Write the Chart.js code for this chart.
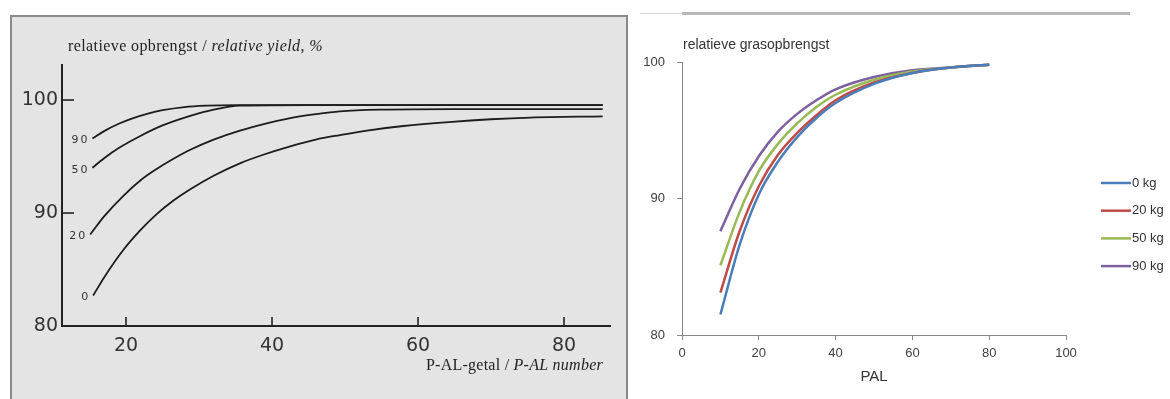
<!DOCTYPE html>
<html><head><meta charset="utf-8">
<script src="https://cdn.jsdelivr.net/npm/chart.js@4.4.1/dist/chart.umd.min.js"></script>
<style>
html,body{margin:0;padding:0;background:#fff;width:1170px;height:399px;overflow:hidden;}
#leftBox{position:absolute;left:10px;top:15px;width:614px;height:384px;background:#e4e4e4;border:2px solid #8a8a8a;border-bottom:none;}
#leftWrap{position:absolute;left:12px;top:17px;width:614px;height:382px;}
#rightWrap{position:absolute;left:640px;top:0;width:530px;height:399px;}
#topLine{position:absolute;left:682px;top:12px;width:448px;height:3px;background:#b8b8b8;}
#topLine2{position:absolute;left:640px;top:13px;width:42px;height:1px;background:#d8d8d8;}
</style></head>
<body>
<div id="leftBox"></div>
<div id="leftWrap"><canvas id="left"></canvas></div>
<div id="topLine2"></div><div id="topLine"></div>
<div id="rightWrap"><canvas id="right"></canvas></div>
<script>
// ---------- LEFT (scanned) chart data ----------
const leftLabels = ["90", "50", "20", "0"];
const leftX90 = [15.4, 17, 19, 21, 23, 25, 28, 31, 35, 45, 60, 85.3];
const leftY90 = [96.6, 97.25, 97.9, 98.4, 98.8, 99.1, 99.38, 99.5, 99.55, 99.55, 99.55, 99.55];
const leftX50 = [15.4, 17, 19, 21.9, 25, 28.8, 32, 35.6, 45, 60, 85.3];
const leftY50 = [94.0, 94.85, 95.75, 96.8, 97.75, 98.6, 99.15, 99.5, 99.55, 99.55, 99.55];
const leftX20 = [15.1, 17, 19.6, 22, 24.2, 26.5, 28.8, 32, 35.6, 39, 42.5, 46, 49.3, 55, 65, 85.3];
const leftY20 = [88.1, 89.7, 91.5, 92.9, 93.9, 94.8, 95.6, 96.5, 97.3, 97.9, 98.4, 98.75, 99.0, 99.15, 99.2, 99.2];
const leftX0 = [15.5, 17, 19.6, 22, 24.2, 26.5, 28.8, 32, 35.6, 39, 42.5, 46, 49.3, 53, 58, 64.2, 70, 75.4, 85.3];
const leftY0 = [82.7, 84.3, 86.7, 88.5, 89.9, 91.1, 92.1, 93.3, 94.4, 95.2, 95.9, 96.5, 96.9, 97.3, 97.7, 98.05, 98.3, 98.45, 98.55];
const leftXTicks = [20, 40, 60, 80];
const leftYTicks = [80, 90, 100];

// ---------- RIGHT (Excel) chart data ----------
const rightSeriesNames = ["0 kg", "20 kg", "50 kg", "90 kg"];
const rightPAL = [10, 15, 20, 25, 30, 35, 40, 50, 60, 70, 80];
const right0kg  = [81.5, 86.6, 90.3, 92.7, 94.5, 95.9, 97.0, 98.4, 99.2, 99.6, 99.8];
const right20kg = [83.1, 87.6, 90.9, 93.2, 94.8, 96.1, 97.2, 98.5, 99.2, 99.6, 99.8];
const right50kg = [85.1, 89.0, 92.0, 94.0, 95.5, 96.7, 97.6, 98.7, 99.3, 99.6, 99.8];
const right90kg = [87.6, 90.7, 93.1, 94.9, 96.2, 97.2, 98.0, 98.9, 99.4, 99.6, 99.8];
const rightXTicks = [0, 20, 40, 60, 80, 100];
const rightYTicks = [80, 90, 100];

const pts = (xs, ys) => xs.map((x, i) => ({x: x, y: ys[i]}));

// ===== left chart =====
const leftSeries = [pts(leftX90, leftY90), pts(leftX50, leftY50), pts(leftX20, leftY20), pts(leftX0, leftY0)];
const leftPlugin = {
  id: 'leftDeco',
  afterDatasetsDraw(chart) {
    const ctx = chart.ctx, xs = chart.scales.x, ys = chart.scales.y, a = chart.chartArea;
    ctx.save();
    ctx.strokeStyle = '#222'; ctx.lineWidth = 1.6;
    [90, 100].forEach(v => { const y = ys.getPixelForValue(v); ctx.beginPath(); ctx.moveTo(a.left, y); ctx.lineTo(a.left + 12, y); ctx.stroke(); });
    leftXTicks.forEach(v => { const x = xs.getPixelForValue(v); ctx.beginPath(); ctx.moveTo(x, a.bottom); ctx.lineTo(x, a.bottom - 9); ctx.stroke(); });
    // curve labels
    ctx.fillStyle = '#333'; ctx.font = '11px "DejaVu Sans"'; ctx.textAlign = 'right'; ctx.textBaseline = 'middle';
    chart.data.datasets.forEach((ds, i) => {
      const p = ds.data[0];
      const px = xs.getPixelForValue(p.x), py = ys.getPixelForValue(p.y);
      ctx.save(); ctx.letterSpacing = '2px';
      ctx.fillText(leftLabels[i], px - 3, py + 2);
      ctx.restore();
    });
    // titles
    ctx.textAlign = 'left'; ctx.textBaseline = 'alphabetic'; ctx.fillStyle = '#222';
    ctx.letterSpacing = '0.4px';
    const t1 = 'relatieve opbrengst / ';
    ctx.font = '16px "Liberation Serif"';
    ctx.fillText(t1, 56, 34);
    const w = ctx.measureText(t1).width;
    ctx.font = 'italic 16px "Liberation Serif"';
    ctx.fillText('relative yield, %', 56 + w, 34);
    ctx.letterSpacing = '0.25px';
    const t2a = 'P-AL-getal / ', t2b = 'P-AL number';
    ctx.font = 'italic 16px "Liberation Serif"';
    const wb = ctx.measureText(t2b).width;
    ctx.fillText(t2b, 591 - wb, 353);
    ctx.font = '16px "Liberation Serif"';
    const wa = ctx.measureText(t2a).width;
    ctx.fillText(t2a, 591 - wb - wa, 353);
    ctx.restore();
  }
};
new Chart(document.getElementById('left'), {
  type: 'line',
  data: { datasets: leftSeries.map((d, i) => ({ label: leftLabels[i], data: d, borderColor: '#1c1c1c', borderWidth: 1.8, pointRadius: 0, cubicInterpolationMode: 'monotone', fill: false })) },
  options: {
    responsive: true, maintainAspectRatio: false, animation: false,
    layout: { padding: { top: 48, right: 16, left: 0, bottom: 0 } },
    plugins: { legend: { display: false }, tooltip: { enabled: false } },
    scales: {
      x: { type: 'linear', min: 11.23, max: 86.3,
        afterBuildTicks: s => { s.ticks = leftXTicks.map(v => ({ value: v })); },
        afterFit: s => { s.height = 73; },
        grid: { display: false, drawTicks: false },
        border: { display: true, color: '#222', width: 2 },
        ticks: { padding: 9, color: '#333', font: { family: 'DejaVu Sans', size: 19 } } },
      y: { type: 'linear', min: 80, max: 103.1,
        afterBuildTicks: s => { s.ticks = leftYTicks.map(v => ({ value: v })); },
        afterFit: s => { s.width = 50; },
        grid: { display: false, drawTicks: false },
        border: { display: true, color: '#222', width: 2 },
        ticks: { padding: 4, color: '#333', font: { family: 'DejaVu Sans', size: 19 } } }
    }
  },
  plugins: [leftPlugin]
});

// ===== right chart =====
const rightColors = ['#4A7EBB', '#BE4B48', '#98B954', '#7D60A0'];
const rightSeries = [right0kg, right20kg, right50kg, right90kg];
const rightPlugin = {
  id: 'rightDeco',
  afterDraw(chart) {
    const ctx = chart.ctx, a = chart.chartArea;
    ctx.save();
    ctx.fillStyle = '#333'; ctx.font = '14px "Liberation Sans"'; ctx.textBaseline = 'middle'; ctx.textAlign = 'left';
    ctx.fillText('relatieve grasopbrengst', a.left + 1, 45);
    ctx.font = '13px "Liberation Sans"';
    chart.data.datasets.forEach((ds, i) => {
      const y = 183 + i * 27.7;
      ctx.strokeStyle = ds.borderColor; ctx.lineWidth = 2.5;
      ctx.beginPath(); ctx.moveTo(461, y); ctx.lineTo(491, y); ctx.stroke();
      ctx.fillStyle = '#333';
      ctx.fillText(ds.label, 492, y);
    });
    ctx.restore();
  }
};
new Chart(document.getElementById('right'), {
  type: 'line',
  data: { datasets: rightSeries.map((s, i) => ({ label: rightSeriesNames[i], data: pts(rightPAL, s), borderColor: rightColors[i], borderWidth: 2.5, pointRadius: 0, cubicInterpolationMode: 'monotone', fill: false })) },
  options: {
    responsive: true, maintainAspectRatio: false, animation: false,
    layout: { padding: { top: 62, right: 104, left: 0, bottom: 0 } },
    plugins: { legend: { display: false }, tooltip: { enabled: false } },
    scales: {
      x: { type: 'linear', min: 0, max: 100,
        afterBuildTicks: s => { s.ticks = rightXTicks.map(v => ({ value: v })); },
        afterFit: s => { s.height = 64; },
        grid: { display: true, drawOnChartArea: false, drawTicks: true, tickLength: 5, color: '#868686' },
        border: { display: true, color: '#868686', width: 1 },
        ticks: { padding: 6, color: '#404040', font: { family: 'Liberation Sans', size: 13 } },
        title: { display: true, text: 'PAL', color: '#333', font: { family: 'Liberation Sans', size: 15 }, padding: { top: 0, bottom: 13 } } },
      y: { type: 'linear', min: 80, max: 100,
        afterBuildTicks: s => { s.ticks = rightYTicks.map(v => ({ value: v })); },
        afterFit: s => { s.width = 42; },
        grid: { display: true, drawOnChartArea: false, drawTicks: true, tickLength: 5, color: '#868686' },
        border: { display: true, color: '#868686', width: 1 },
        ticks: { padding: 12, color: '#404040', font: { family: 'Liberation Sans', size: 13 } } }
    }
  },
  plugins: [rightPlugin]
});
</script>
</body></html>
